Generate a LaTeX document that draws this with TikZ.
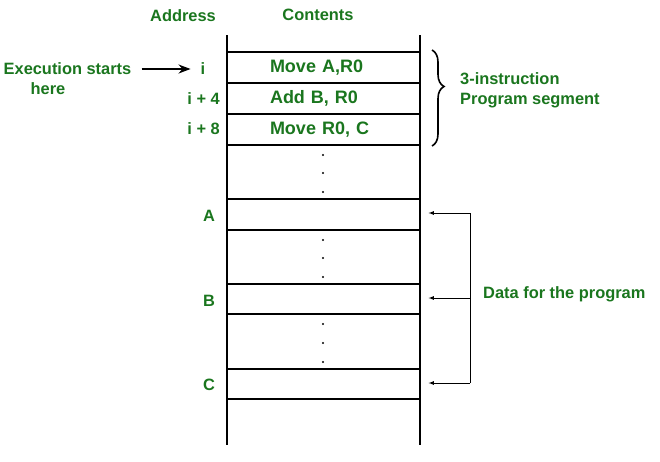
\documentclass[tikz,border=0pt]{standalone}
\usepackage{fontspec}
\setmainfont{Liberation Sans}
\usetikzlibrary{arrows,arrows.meta,positioning,decorations.pathreplacing,calc}
\definecolor{labelgreen}{RGB}{26,118,30}
\tikzset{
  lbl/.style={text=labelgreen,font=\bfseries\fontsize{16.4}{20}\selectfont,inner sep=0pt},
  cell/.style={lbl,draw=black,line width=1.2pt,minimum width=193pt,minimum height=31pt},
  instr/.style={cell,font=\bfseries\fontsize{18}{22}\selectfont,text width=107pt,inner xsep=43pt,align=left},
}

\begin{document}
\begin{tikzpicture}[x=1pt,y=-1pt,>=latex]
            \useasboundingbox (0,0) rectangle (660,461);
            % headings
            \node[lbl] (addr) at (183,16) {Address};
            \node[lbl] (cont) at (318,15) {Contents};
            % memory column
            \draw[line width=1.2pt] (227,35) -- (227,445);
            \draw[line width=1.2pt] (420,35) -- (420,445);
            \node[instr] (ins1) at (323.5,67.5) {Move A,R0};
            \node[instr] (ins2) at (323.5,98.5) {Add B, R0};
            \node[instr] (ins3) at (323.5,129.5) {Move R0, C};
            \node[cell] (cellA) at (323.5,214.5) {};
            \node[cell,minimum height=30pt] (cellB) at (323.5,299) {};
            \node[cell,minimum height=30pt] (cellC) at (323.5,384) {};
            % dots in the gaps
            \foreach \y in {155,173,192,240,258,277,324,343,362}
              \fill (323,\y) circle (1.1pt);
            % addresses
            \node[lbl] (adi) at (203,69) {i};
            \node[lbl,anchor=east] (adi4) at (220,99) {i + 4};
            \node[lbl,anchor=east] (adi8) at (220,129) {i + 8};
            \node[lbl] (adA) at (209,216) {A};
            \node[lbl] (adB) at (209,301) {B};
            \node[lbl] (adC) at (209,385) {C};
            % start of execution
            \node[lbl] (exec) at (67.5,69) {Execution starts};
            \node[lbl] (here) at (48,89) {here};
            \draw[-{Stealth[length=12pt,width=9pt]},line width=1.3pt]
                  ([xshift=10pt]exec.east) -- ([xshift=-10pt]adi.west);
            % program segment
            \coordinate (segtop) at (432,50);
            \coordinate (segbot) at (432,146);
            \draw[line width=1.6pt,decorate,decoration={brace,amplitude=12pt,aspect=0.38}]
                  (segtop) -- (segbot);
            \node[lbl,anchor=west,align=left] (seg) at (460,90) {3-instruction\\Program segment};
            % data for the program
            \coordinate (dA) at (470,213);
            \coordinate (dB) at (470,298);
            \coordinate (dC) at (470,383);
            \draw[line width=0.8pt] (dA) -- (dC);
            \draw[->,line width=0.8pt] (dA) -- ($(dA -| cellA.east)+(8,0)$);
            \draw[->,line width=0.8pt] (dB) -- ($(dB -| cellB.east)+(8,0)$);
            \draw[->,line width=0.8pt] (dC) -- ($(dC -| cellC.east)+(8,0)$);
            \node[lbl,anchor=west] (data) at (483,294) {Data for the program};
          \end{tikzpicture}
\end{document}
